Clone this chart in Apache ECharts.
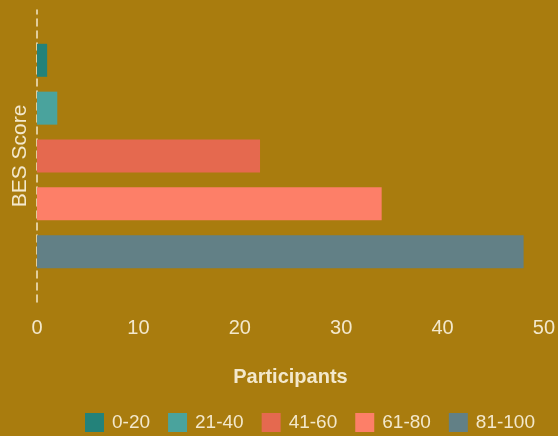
<!DOCTYPE html>
<html><head><meta charset="utf-8">
<script src="https://cdn.jsdelivr.net/npm/echarts@6/dist/echarts.min.js"></script>
<style>html,body{margin:0;padding:0;background:#A97C0E;}#c{width:558px;height:436px;}</style>
</head><body><div id="c"></div>
<script>
const categories = ['BES Score'];
const seriesNames = ['0-20', '21-40', '41-60', '61-80', '81-100'];
const seriesValues = [1, 2, 22, 34, 48];
const xTicks = [0, 10, 20, 30, 40, 50];
const colors = ['#23827A', '#4AA39D', '#E5694F', '#FD7F68', '#628086'];
const txt = '#F3E8CC';
const ff = 'Liberation Sans, Arial, sans-serif';

const chart = echarts.init(document.getElementById('c'), null, {renderer: 'canvas'});
chart.setOption({
  backgroundColor: '#A97C0E',
  animation: false,
  textStyle: {fontFamily: ff},
  grid: {left: 37, right: 13, top: 10, bottom: 134, containLabel: false},
  legend: {
    data: seriesNames, right: 18, bottom: -1, itemWidth: 19, itemHeight: 19, itemGap: 18,
    icon: 'rect',
    textStyle: {color: txt, fontSize: 19, fontFamily: ff, padding: [0, 0, 0, 3]}
  },
  xAxis: {
    type: 'value', min: xTicks[0], max: xTicks[xTicks.length - 1], interval: 10,
    name: 'Participants', nameLocation: 'middle', nameGap: 65,
    nameTextStyle: {color: txt, fontSize: 20, fontWeight: 'bold', fontFamily: ff},
    axisLine: {show: false}, axisTick: {show: false}, splitLine: {show: false},
    axisLabel: {color: txt, fontSize: 20, margin: 16, fontFamily: ff}
  },
  yAxis: {
    type: 'category', data: categories,
    name: 'BES Score', nameLocation: 'middle', nameGap: 6, nameRotate: 90,
    nameTextStyle: {color: txt, fontSize: 21, fontFamily: ff},
    axisLine: {show: true, lineStyle: {color: txt, type: [7, 5], width: 1.5}},
    axisTick: {show: false}, axisLabel: {show: false}, splitLine: {show: false}
  },
  series: seriesNames.map((n, i) => ({
    name: n, type: 'bar', data: [seriesValues[i]],
    barWidth: 33, barGap: '45%',
    itemStyle: {color: colors[i]}
  }))
});
</script></body></html>
